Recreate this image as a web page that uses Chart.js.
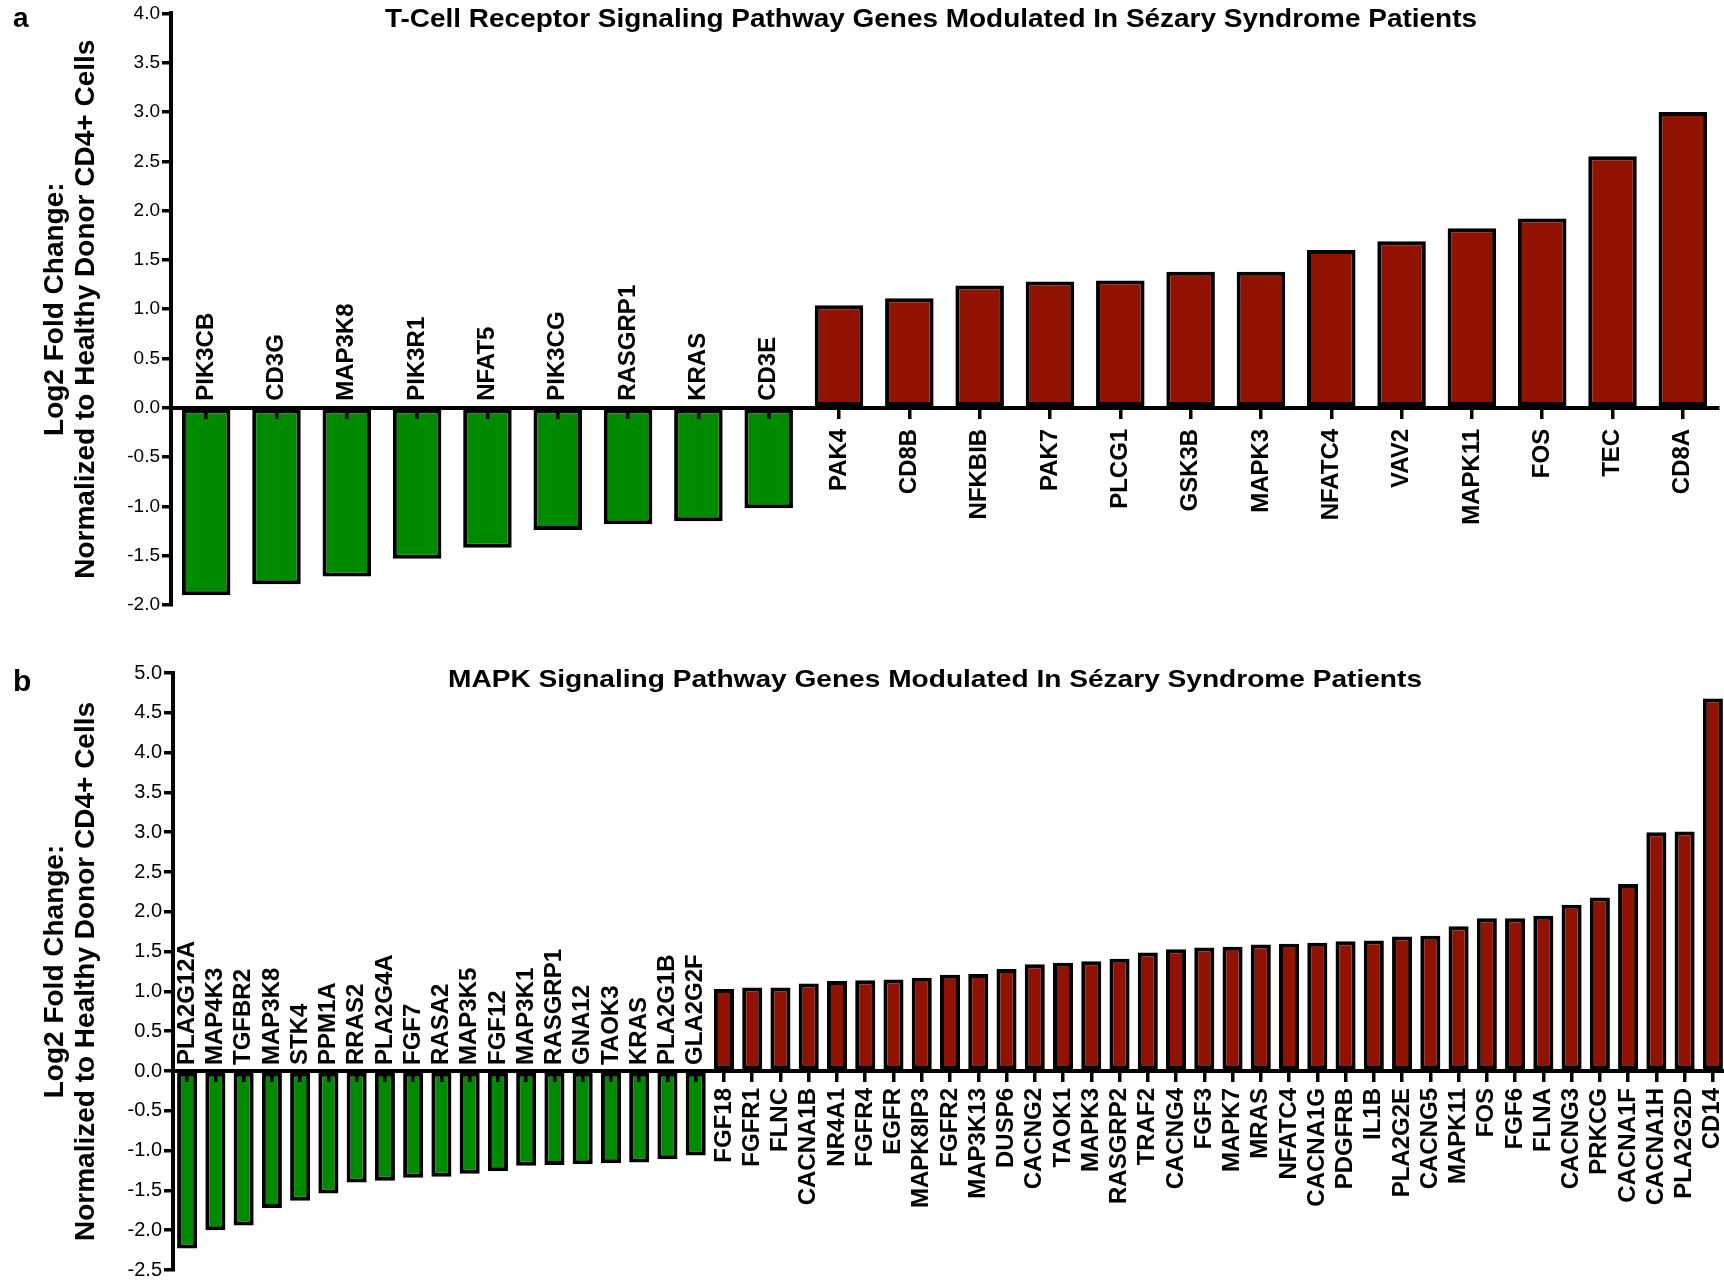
<!DOCTYPE html>
<html>
<head>
<meta charset="utf-8">
<script src="https://cdn.jsdelivr.net/npm/chart.js@4/dist/chart.umd.min.js"></script>
<style>
  html, body { margin: 0; padding: 0; background: #fff; overflow: hidden; width: 1724px; height: 1282px; }
  canvas { position: absolute; left: 0; }
  #chartA { top: 0; }
  #chartB { top: 640px; }
</style>
</head>
<body>
<canvas id="chartA" width="1724" height="640"></canvas>
<canvas id="chartB" width="1730" height="665"></canvas>
<script>
const FONT = "'Liberation Sans', Arial, Helvetica, sans-serif";
const GREEN = '#008a00';
const RED = '#911200';

// panel a - T-cell receptor pathway
const tcrGenes = [
  'PIK3CB', 'CD3G', 'MAP3K8', 'PIK3R1', 'NFAT5', 'PIK3CG', 'RASGRP1', 'KRAS', 'CD3E',
  'PAK4', 'CD8B', 'NFKBIB', 'PAK7', 'PLCG1', 'GSK3B', 'MAPK3', 'NFATC4', 'VAV2',
  'MAPK11', 'FOS', 'TEC', 'CD8A',
];
const tcrValues = [
  -1.90, -1.79, -1.71, -1.53, -1.42, -1.24, -1.18, -1.15, -1.02,
  1.04, 1.11, 1.24, 1.28, 1.29, 1.38, 1.38, 1.60, 1.69,
  1.82, 1.92, 2.55, 3.00,
];

// panel b - MAPK pathway
const mapkGenes = [
  'PLA2G12A', 'MAP4K3', 'TGFBR2', 'MAP3K8', 'STK4', 'PPM1A', 'RRAS2', 'PLA2G4A', 'FGF7',
  'RASA2', 'MAP3K5', 'FGF12', 'MAP3K1', 'RASGRP1', 'GNA12', 'TAOK3', 'KRAS', 'PLA2G1B',
  'GLA2G2F',
  'FGF18', 'FGFR1', 'FLNC', 'CACNA1B', 'NR4A1', 'FGFR4', 'EGFR', 'MAPK8IP3', 'FGFR2',
  'MAP3K13', 'DUSP6', 'CACNG2', 'TAOK1', 'MAPK3', 'RASGRP2', 'TRAF2', 'CACNG4', 'FGF3',
  'MAPK7', 'MRAS', 'NFATC4', 'CACNA1G', 'PDGFRB', 'IL1B', 'PLA2G2E', 'CACNG5', 'MAPK11',
  'FOS', 'FGF6', 'FLNA', 'CACNG3', 'PRKCG', 'CACNA1F', 'CACNA1H', 'PLA2G2D', 'CD14',
];
const mapkValues = [
  -2.23, -2.00, -1.94, -1.72, -1.63, -1.54, -1.40, -1.38, -1.34,
  -1.33, -1.29, -1.26, -1.19, -1.18, -1.17, -1.16, -1.15, -1.11,
  -1.06,
  1.03, 1.05, 1.05, 1.10, 1.13, 1.14, 1.15, 1.17, 1.21,
  1.22, 1.28, 1.34, 1.36, 1.38, 1.41, 1.49, 1.53, 1.55,
  1.56, 1.59, 1.60, 1.61, 1.63, 1.64, 1.69, 1.70, 1.82,
  1.92, 1.92, 1.95, 2.09, 2.18, 2.35, 3.00, 3.01, 4.68,
];

const yTitle = ['Log2 Fold Change:', 'Normalized to Healthy Donor CD4+ Cells'];

// gene names sit on the zero line: above it for down-regulated, below for up-regulated
const geneLabels = {
  id: 'geneLabels',
  afterDraw(chart, args, opts) {
    const { ctx } = chart;
    const { x, y } = chart.scales;
    const zero = y.getPixelForValue(0);
    const values = chart.data.datasets[0].data;
    ctx.save();
    ctx.font = `bold ${opts.size}px ${FONT}`;
    ctx.fillStyle = '#000';
    ctx.textBaseline = 'middle';
    chart.data.labels.forEach((label, i) => {
      const below = values[i] >= 0;
      ctx.save();
      ctx.translate(x.getPixelForValue(i), below ? zero + opts.gapBelow : zero - opts.gapAbove);
      ctx.rotate(-Math.PI / 2);
      ctx.textAlign = below ? 'right' : 'left';
      ctx.fillText(label, 0, 0);
      ctx.restore();
    });
    ctx.restore();
  },
};

const panelHeading = {
  id: 'panelHeading',
  afterDraw(chart, args, opts) {
    const { ctx } = chart;
    ctx.save();
    ctx.fillStyle = '#000';
    ctx.textBaseline = 'alphabetic';
    ctx.textAlign = 'left';
    ctx.font = `bold ${opts.letterSize}px ${FONT}`;
    ctx.fillText(opts.letter, 13, opts.letterY);
    ctx.font = `bold ${opts.titleSize}px ${FONT}`;
    const w = ctx.measureText(opts.title).width;
    ctx.translate(opts.titleX, opts.titleY);
    ctx.scale(opts.titleWidth / w, 1);
    ctx.textAlign = 'center';
    ctx.fillText(opts.title, 0, 0);
    ctx.restore();
  },
};

function renderPanel(canvasId, genes, values, cfg) {
  new Chart(document.getElementById(canvasId), {
    type: 'bar',
    data: {
      labels: genes,
      datasets: [
        {
          data: values,
          backgroundColor: values.map((v) => (v < 0 ? GREEN : RED)),
          borderColor: '#000',
          borderWidth: 4,
          borderSkipped: false,
          barPercentage: cfg.barPct,
          categoryPercentage: 1,
        },
      ],
    },
    options: {
      responsive: false,
      animation: false,
      layout: { padding: { top: cfg.padTop, bottom: cfg.padBottom, left: 0, right: cfg.padRight } },
      scales: {
        x: {
          position: { y: 0 },
          offset: true,
          grid: { offset: false, drawOnChartArea: false, tickLength: 9, color: '#000', lineWidth: 3.5, z: 1 },
          border: { display: true, color: '#000', width: 4, z: 1 },
          ticks: { display: false },
        },
        y: {
          min: cfg.min,
          max: cfg.max,
          afterFit(scale) {
            scale.width = cfg.axisLeft;
          },
          ticks: {
            stepSize: 0.5,
            color: '#000',
            padding: 2,
            font: { family: FONT, size: cfg.tickSize },
            callback: (value) => value.toFixed(1),
          },
          grid: { drawOnChartArea: false, tickLength: 9, color: '#000', lineWidth: 3.5 },
          border: { color: '#000', width: 4, z: 1 },
          title: {
            display: true,
            text: yTitle,
            color: '#000',
            font: { family: FONT, size: 28, weight: 'bold', lineHeight: 1.1 },
            padding: { top: 40, bottom: 0 },
          },
        },
      },
      plugins: {
        legend: { display: false },
        tooltip: { enabled: false },
        geneLabels: { size: 24, gapAbove: cfg.gapAbove, gapBelow: cfg.gapBelow },
        panelHeading: cfg.heading,
      },
    },
    plugins: [geneLabels, panelHeading],
  });
}

renderPanel('chartA', tcrGenes, tcrValues, {
  min: -2, max: 4, axisLeft: 171, padTop: 13, padBottom: 35, padRight: 6,
  barPct: 0.69, tickSize: 19, gapAbove: 7, gapBelow: 21,
  heading: {
    letter: 'a', letterSize: 28, letterY: 27,
    title: 'T-Cell Receptor Signaling Pathway Genes Modulated In Sézary Syndrome Patients',
    titleSize: 25, titleX: 931, titleY: 27, titleWidth: 1092,
  },
});

renderPanel('chartB', mapkGenes, mapkValues, {
  min: -2.5, max: 5, axisLeft: 173, padTop: 33, padBottom: 35, padRight: 3,
  barPct: 0.71, tickSize: 20, gapAbove: 6, gapBelow: 17,
  heading: {
    letter: 'b', letterSize: 30, letterY: 51,
    title: 'MAPK Signaling Pathway Genes Modulated In Sézary Syndrome Patients',
    titleSize: 24, titleX: 935, titleY: 47, titleWidth: 974,
  },
});
</script>
</body>
</html>
